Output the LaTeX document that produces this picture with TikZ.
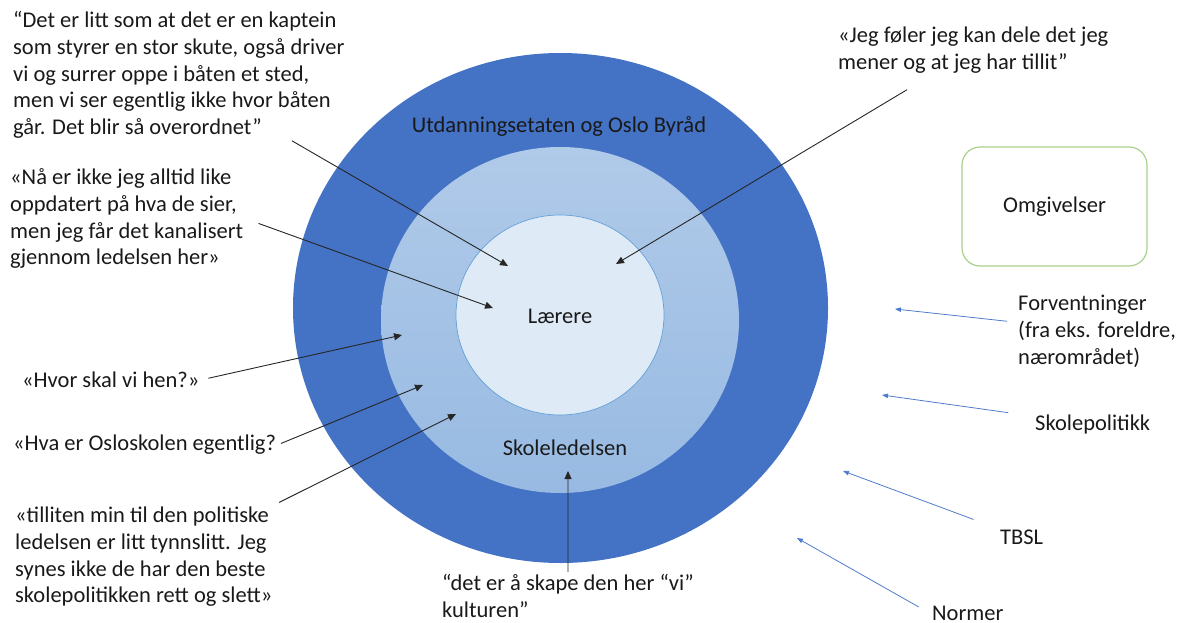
\documentclass[tikz,border=0pt]{standalone}
\usepackage{fontspec}
\setmainfont{Carlito}
\usetikzlibrary{arrows.meta}
\definecolor{ringdark}{RGB}{68,114,196}
\definecolor{ringtop}{RGB}{176,202,233}
\definecolor{ringbottom}{RGB}{152,186,226}
\definecolor{corefill}{RGB}{222,235,247}
\definecolor{coreline}{RGB}{100,160,215}
\definecolor{boxgreen}{RGB}{169,209,142}
\definecolor{pullblue}{RGB}{78,124,204}
\definecolor{textgray}{RGB}{25,25,25}
\begin{document}
\begin{tikzpicture}[x=1pt, y=-1pt, >={Triangle[length=8pt,width=7pt]},
  txt/.style={inner sep=2pt, align=left, text=textgray, font=\fontsize{22.5}{26.8}\selectfont},
  quote/.style={->, line width=0.9pt, black!85},
  pull/.style={-{Triangle[length=6pt,width=4.5pt]}, line width=0.8pt, pullblue}]
\useasboundingbox (0,0) rectangle (1177,623);
\fill[ringdark] (560.5,308) ellipse [x radius=267.5pt, y radius=255pt];
\shade[top color=ringtop, bottom color=ringbottom] (560,320) ellipse [x radius=179pt, y radius=173pt];
\filldraw[fill=corefill, draw=coreline, line width=0.7pt] (560,315) ellipse [x radius=104pt, y radius=100pt];
\node[txt, anchor=base] (o) at (559,132.5) {Utdanningsetaten og Oslo Byråd};
\node[txt, anchor=base] (s) at (565,455.5) {Skoleledelsen};
\node[txt, anchor=base] (l) at (560,323.5) {Lærere};
\node[txt, draw=boxgreen, line width=1.2pt, rounded corners=18pt, minimum width=185pt, minimum height=119pt, align=center] (m) at (1054.5,206.5) {Omgivelser};
\node[txt, anchor=base west] (q1) at (11,134.7) {“Det er litt som at det er en kaptein\\som styrer en stor skute, også driver\\vi og surrer oppe i båten et sted,\\men vi ser egentlig ikke hvor båten\\går. Det blir så overordnet”};
\node[txt, anchor=base west] (q2) at (8,264.9) {«Nå er ikke jeg alltid like\\oppdatert på hva de sier,\\men jeg får det kanalisert\\gjennom ledelsen her»};
\node[txt, anchor=base west] (q3) at (20,387.5) {«Hvor skal vi hen?»};
\node[txt, anchor=base west] (q4) at (11,450.5) {«Hva er Osloskolen egentlig?};
\node[txt, anchor=base west] (q5) at (13,602.9) {«tilliten min til den politiske\\ledelsen er litt tynnslitt. Jeg\\synes ikke de har den beste\\skolepolitikken rett og slett»};
\node[txt, anchor=base west] (q6) at (440,617.3) {“det er å skape den her “vi”\\kulturen”};
\node[txt, anchor=base west] (q7) at (836,69.3) {«Jeg føler jeg kan dele det jeg\\mener og at jeg har tillit”};
\node[txt, anchor=base west] (f) at (1016,364.1) {Forventninger\\(fra eks. foreldre,\\nærområdet)};
\node[txt, anchor=base west] (p) at (1033,430.5) {Skolepolitikk};
\node[txt, anchor=base west] (b) at (998,544.5) {TBSL};
\node[txt, anchor=base west] (n) at (930,620.5) {Normer};
\coordinate (t1) at (508,266);
\coordinate (t2) at (493,308);
\coordinate (t3) at (616,264);
\coordinate (t4) at (402,335);
\coordinate (t5) at (423,385);
\coordinate (t6) at (456,414);
\coordinate (t7) at (568,471);
\coordinate (u1) at (895,309);
\coordinate (u2) at (882,395);
\coordinate (u3) at (843,471);
\coordinate (u4) at (797,538);
\draw[quote] (q1) -- (t1);
\draw[quote, shorten <=14pt] (q2.east) -- (t2);
\draw[quote, shorten <=28pt] (q7) -- (t3);
\draw[quote, shorten <=7pt] (q3.east) -- (t4);
\draw[quote, shorten <=3pt] (q4.east) -- (t5);
\draw[quote, shorten <=5pt] (q5.north east) -- (t6);
\draw[quote] (q6) -- (t7);
\draw[pull, shorten <=9pt] (f) -- (u1);
\draw[pull, shorten <=25pt] (p) -- (u2);
\draw[pull, shorten <=26pt] (b) -- (u3);
\draw[pull, shorten <=13pt] (n.west) -- (u4);
\end{tikzpicture}
\end{document}
